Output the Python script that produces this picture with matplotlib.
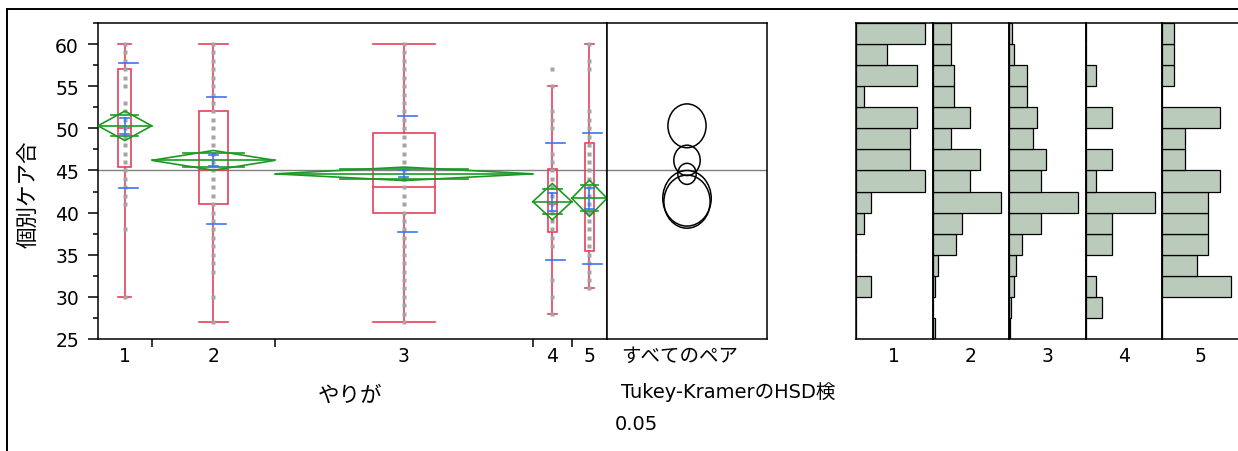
import matplotlib
matplotlib.use("Agg")
import matplotlib.pyplot as plt
from matplotlib.patches import Rectangle, Polygon, Ellipse
from matplotlib.lines import Line2D
from matplotlib.ticker import FixedLocator, NullFormatter

plt.rcParams['font.family'] = ['DejaVu Sans', 'Noto Sans CJK JP']

# ---- data -------------------------------------------------------------
groups = ["1", "2", "3", "4", "5"]
group_n = [58, 133, 278, 42, 38]
means = [50.3, 46.2, 44.6, 41.3, 41.7]
ci_half = [1.75, 1.17, 0.80, 2.15, 2.15]
std_dev = [7.4, 7.55, 6.85, 6.95, 7.8]
std_err = [0.97, 0.65, 0.41, 1.07, 1.27]
q1 = [45.4, 41.0, 40.0, 37.7, 35.4]
median = [50.0, 45.0, 43.0, 41.0, 40.0]
q3 = [57.1, 52.0, 49.5, 45.2, 48.3]
whisker_lo = [30, 27, 27, 28, 31]
whisker_hi = [60, 60, 60, 55, 60]
grand_mean = 45.05
circle_radius = [2.6, 1.8, 1.25, 3.15, 3.3]

points_1 = [60, 59, 58, 57, 56, 55, 53, 52, 51, 50, 49, 48, 47, 46, 45,
            44, 43, 42, 41, 38, 30]
points_2 = [60, 59, 58, 57, 56, 55, 54, 53, 52, 51, 50, 49, 48, 47, 46,
            45, 44, 43, 42, 41, 40, 39, 38, 37, 36, 35, 34, 33, 30, 27]
points_3 = [60, 59, 58, 57, 56, 55, 54, 53, 52, 51, 50, 49, 48, 47, 46,
            45, 44, 43, 42, 41, 40, 39, 38, 37, 36, 35, 34, 33, 32, 31,
            30, 29, 28, 27]
points_4 = [57, 55, 52, 51, 50, 47, 46, 45, 44, 43, 42, 41, 40, 39, 38,
            37, 36, 32, 30, 28]
points_5 = [60, 58, 57, 52, 51, 50, 49, 48, 47, 46, 45, 44, 43, 42, 41,
            40, 39, 38, 37, 36, 35, 34, 33, 32, 31]
points = [points_1, points_2, points_3, points_4, points_5]

bin_edges = [25, 27.5, 30, 32.5, 35, 37.5, 40, 42.5, 45, 47.5, 50, 52.5,
             55, 57.5, 60, 62.5]
hist_1 = [0, 0, 2, 0, 0, 1, 2, 9, 7, 7, 8, 1, 8, 4, 9]
hist_2 = [1, 0, 1, 2, 9, 11, 26, 14, 18, 7, 14, 8, 8, 7, 7]
hist_3 = [1, 2, 5, 7, 12, 30, 65, 30, 35, 23, 26, 17, 17, 5, 3]
hist_4 = [0, 3, 2, 0, 5, 5, 13, 2, 5, 0, 5, 0, 2, 0, 0]
hist_5 = [0, 0, 6, 3, 4, 4, 4, 5, 2, 2, 5, 0, 1, 1, 1]
hists = [hist_1, hist_2, hist_3, hist_4, hist_5]

y_ticks = [25, 30, 35, 40, 45, 50, 55, 60]
y_label = "個別ケア合"
x_label = "やりが"
pairs_label = "すべてのペア"
test_label = "Tukey-KramerのHSD検"
alpha_label = "0.05"

# ---- styling ----------------------------------------------------------
W, H = 1238, 452
RED = "#E8405A"
GREEN = "#1A9A22"
BLUE = "#3C74F2"
DOT = "#A4A4A4"
HIST_FILL = "#BACBBB"
FS = 13.5
FS_TEXT = 14
YLIM = (25, 62.5)


def box_px(left, top, right, bottom):
    return [left / W, 1 - bottom / H, (right - left) / W, (bottom - top) / H]


fig = plt.figure(figsize=(W / 100, H / 100), dpi=100)

# outer report frame
fig.add_artist(Line2D([7 / W, 1.0], [1 - 10 / H, 1 - 10 / H],
                      transform=fig.transFigure, color="black", lw=1.4))
fig.add_artist(Line2D([7 / W, 7 / W], [1 - 10 / H, 0.0],
                      transform=fig.transFigure, color="black", lw=1.4))

# ---- one-way plot -----------------------------------------------------
ax = fig.add_axes(box_px(98, 24, 607, 340))
bounds = [0]
for n in group_n:
    bounds.append(bounds[-1] + n)
total = bounds[-1]
px_per_unit = 509 / total
centers = [(bounds[i] + bounds[i + 1]) / 2 for i in range(len(groups))]

box_frac = 0.24
sd_bar_w = 19 / px_per_unit
sd_bar_off = 3.5 / px_per_unit
se_cap_w = 9 / px_per_unit

ax.axhline(grand_mean, color="#808080", lw=1.0, zorder=1)

for i, c in enumerate(centers):
    gw = bounds[i + 1] - bounds[i]
    bw = gw * box_frac
    # box and whiskers
    ax.add_patch(Rectangle((c - bw / 2, q1[i]), bw, q3[i] - q1[i],
                           fill=False, ec=RED, lw=1.2, zorder=3))
    ax.plot([c - bw / 2, c + bw / 2], [median[i]] * 2, color=RED, lw=1.2, zorder=3)
    ax.plot([c, c], [q3[i], whisker_hi[i]], color=RED, lw=1.2, zorder=3)
    ax.plot([c, c], [whisker_lo[i], q1[i]], color=RED, lw=1.2, zorder=3)
    for wv in (whisker_lo[i], whisker_hi[i]):
        ax.plot([c - bw / 2, c + bw / 2], [wv, wv], color=RED, lw=1.2, zorder=3)
    # raw points
    ax.plot([c] * len(points[i]), points[i], ls="none", marker="s",
            ms=2.3, color=DOT, mec="none", zorder=3.5)
    # means diamond
    left, right = bounds[i], bounds[i + 1]
    m, h = means[i], ci_half[i]
    ax.add_patch(Polygon([(left, m), (c, m + h), (right, m), (c, m - h)],
                         closed=True, fill=False, ec=GREEN, lw=1.2, zorder=4))
    ax.plot([left, right], [m, m], color=GREEN, lw=1.2, zorder=4)
    ov = h / 2 ** 0.5
    ow = gw * 0.25
    for yv in (m + ov, m - ov):
        ax.plot([c - ow, c + ow], [yv, yv], color=GREEN, lw=1.2, zorder=4)
    # std dev lines
    sc = c + sd_bar_off
    for yv in (m + std_dev[i], m - std_dev[i]):
        ax.plot([sc - sd_bar_w / 2, sc + sd_bar_w / 2], [yv, yv],
                color=BLUE, lw=1.2, zorder=5)
    # std error bar
    ax.plot([c, c], [m - std_err[i], m + std_err[i]], color=BLUE, lw=1.2, zorder=5)
    for yv in (m + std_err[i], m - std_err[i]):
        ax.plot([c - se_cap_w / 2, c + se_cap_w / 2], [yv, yv],
                color=BLUE, lw=1.2, zorder=5)

ax.set_xlim(0, total)
ax.set_ylim(*YLIM)
ax.set_yticks(y_ticks)
ax.yaxis.set_minor_locator(FixedLocator([t + 2.5 for t in y_ticks]))
ax.tick_params(axis="y", which="major", length=7.2, width=1.1, labelsize=FS, pad=6.5)
ax.tick_params(axis="y", which="minor", length=3.6, width=1.1)
ax.set_xticks(bounds[1:-1])
ax.xaxis.set_major_formatter(NullFormatter())
ax.tick_params(axis="x", which="major", length=5.8, width=1.1)
ax.xaxis.set_minor_locator(FixedLocator(centers))
ax.set_xticklabels(groups, minor=True)
ax.tick_params(axis="x", which="minor", length=0, labelsize=FS, pad=5)
for sp in ax.spines.values():
    sp.set_linewidth(1.1)

# ---- comparison circles ----------------------------------------------
axc = fig.add_axes(box_px(607, 24, 767, 340))
circ_span = 21.8
circ_x = 10.9
axc.axhline(grand_mean, color="#808080", lw=1.0, zorder=1)
for m, r in zip(means, circle_radius):
    axc.add_patch(Ellipse((circ_x, m), 2 * r, 2 * r, fill=False,
                          ec="black", lw=1.1, zorder=3))
axc.set_xlim(0, circ_span)
axc.set_ylim(*YLIM)
axc.set_xticks([])
axc.set_yticks([])
for sp in axc.spines.values():
    sp.set_linewidth(1.1)

# ---- histograms -------------------------------------------------------
panel_w = (1238.7 - 856) / len(groups)
for i, counts in enumerate(hists):
    left = 856 + i * panel_w
    axh = fig.add_axes(box_px(left, 24, left + panel_w, 340))
    axh.barh(bin_edges[:-1], counts, height=2.5, align="edge",
             color=HIST_FILL, edgecolor="black", linewidth=0.9)
    axh.set_xlim(0, max(counts) / 0.9)
    axh.set_ylim(*YLIM)
    axh.set_yticks([])
    axh.set_xticks([max(counts) / 0.9 / 2])
    axh.set_xticklabels([groups[i]])
    axh.tick_params(axis="x", length=0, labelsize=FS, pad=5)
    for sp in axh.spines.values():
        sp.set_linewidth(1.1)

# ---- labels -----------------------------------------------------------
fig.text(28 / W, 1 - 194 / H, y_label, rotation=90, ha="center",
         va="center", fontsize=15.5)
fig.text(350 / W, 1 - 396 / H, x_label, ha="center", va="center", fontsize=15.5)
fig.text(621 / W, 1 - 356 / H, pairs_label, ha="left", va="center", fontsize=FS_TEXT)
fig.text(621 / W, 1 - 392 / H, test_label, ha="left", va="center", fontsize=FS_TEXT)
fig.text(615 / W, 1 - 425 / H, alpha_label, ha="left", va="center", fontsize=FS_TEXT)

fig.savefig("out.png", dpi=100)
